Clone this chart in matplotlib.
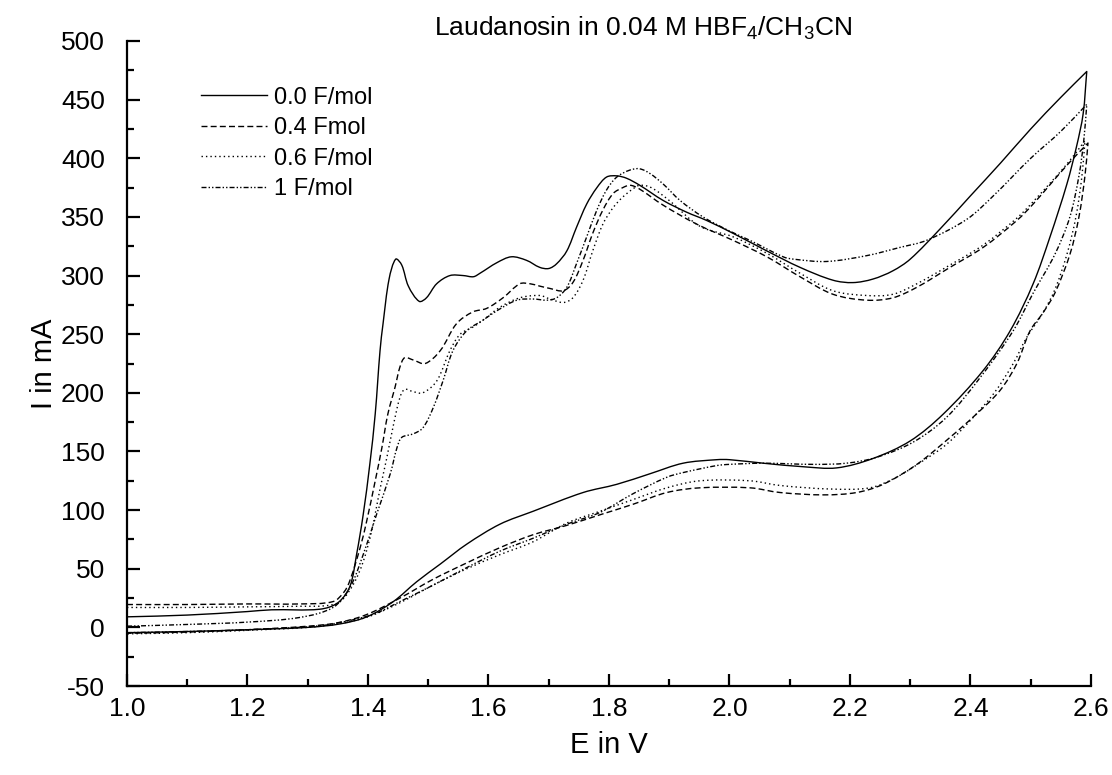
import matplotlib
matplotlib.use("Agg")
import matplotlib.pyplot as plt
from matplotlib.ticker import MultipleLocator, FormatStrFormatter
from matplotlib.path import Path
from matplotlib.patches import PathPatch
from matplotlib.lines import Line2D
import numpy as np

plt.rcParams['font.family'] = ['Liberation Sans', 'DejaVu Sans']
plt.rcParams['mathtext.default'] = 'regular'
plt.rcParams['axes.unicode_minus'] = False

# Cyclic voltammograms of laudanosine after different charges passed
labels = ["0.0 F/mol", "0.4 Fmol", "0.6 F/mol", "1 F/mol"]

# 0.0 F/mol
e00_fwd = [1.00, 1.10, 1.20, 1.24, 1.32, 1.35, 1.37, 1.381, 1.392, 1.403, 1.412, 1.42, 1.425, 1.435, 1.446,
           1.456, 1.467, 1.485, 1.497, 1.514, 1.536, 1.558, 1.575, 1.586, 1.614, 1.638, 1.663, 1.685, 1.70,
           1.713, 1.73, 1.746, 1.763, 1.78, 1.796, 1.813, 1.829, 1.851, 1.89, 1.929, 1.962, 2.006, 2.062,
           2.117, 2.172, 2.205, 2.238, 2.271, 2.30, 2.35, 2.40, 2.45, 2.50, 2.55, 2.593]
i00_fwd = [9, 10.5, 13.5, 15, 15.5, 21, 35, 62, 96, 139, 182, 236, 259, 297, 314,
           309, 291, 278, 281, 293, 300, 300, 299, 302, 311, 316, 313, 307, 306,
           310, 321, 341, 361, 375, 384, 385, 383, 377, 364, 354, 347, 336, 321,
           307, 296, 294, 297, 304, 314, 340, 368, 396, 425, 452, 474]
e00_rev = [2.593, 2.587, 2.576, 2.56, 2.532, 2.504, 2.466, 2.421, 2.355, 2.30, 2.238, 2.178, 2.122, 2.056,
           2.0, 1.979, 1.923, 1.868, 1.813, 1.757, 1.674, 1.619, 1.564, 1.52, 1.481, 1.442, 1.398, 1.354,
           1.30, 1.20, 1.10, 1.00]
i00_rev = [474, 438, 410, 378, 333, 293, 253, 219, 182, 159, 144, 136, 137, 140,
           143, 143, 140, 131, 122, 115, 99, 88, 71, 54, 39, 22, 9, 3,
           0, -2, -3.5, -4.5]

# 0.4 F/mol
e04_fwd = [1.0, 1.1, 1.2, 1.287, 1.342, 1.36, 1.37, 1.387, 1.398, 1.412, 1.423, 1.433, 1.445, 1.453, 1.461,
           1.475, 1.495, 1.52, 1.547, 1.574, 1.597, 1.624, 1.652, 1.669, 1.685, 1.702, 1.724, 1.74, 1.757,
           1.773, 1.79, 1.807, 1.823, 1.835, 1.85, 1.89, 1.945, 2.006, 2.062, 2.117, 2.172, 2.228, 2.271,
           2.311, 2.366, 2.421, 2.477, 2.504, 2.56, 2.595]
i04_fwd = [19.5, 19.5, 20, 20, 22, 30, 40, 68, 91, 125, 153, 182, 205, 222, 230,
           228, 225, 236, 259, 269, 272, 281, 293, 293, 291, 289, 287, 294, 313,
           336, 356, 370, 375, 377, 374, 360, 344, 330, 316, 299, 284, 279, 281,
           290, 307, 324, 347, 361, 394, 413]
e04_rev = [2.595, 2.59, 2.58, 2.565, 2.54, 2.52, 2.499, 2.477, 2.449, 2.41, 2.366, 2.311, 2.255, 2.211,
           2.156, 2.084, 2.034, 1.951, 1.896, 1.84, 1.785, 1.73, 1.674, 1.619, 1.564, 1.508, 1.453, 1.398,
           1.35, 1.3, 1.2, 1.1, 1.0]
i04_rev = [413, 385, 350, 318, 285, 268, 253, 225, 202, 182, 162, 139, 122, 115,
           113, 115, 119, 119, 115, 105, 96, 87, 79, 68, 55, 41, 25, 11,
           4, 1, -2, -4, -5]

# 0.6 F/mol
e06_fwd = [1.0, 1.1, 1.2, 1.287, 1.33, 1.354, 1.376, 1.392, 1.406, 1.42, 1.431, 1.442, 1.453, 1.461, 1.475,
           1.491, 1.514, 1.536, 1.553, 1.574, 1.591, 1.619, 1.652, 1.685, 1.702, 1.724, 1.74, 1.757, 1.773,
           1.79, 1.807, 1.823, 1.84, 1.851, 1.87, 1.90, 1.951, 2.006, 2.062, 2.117, 2.172, 2.228, 2.271,
           2.311, 2.366, 2.421, 2.477, 2.504, 2.56, 2.59]
i06_fwd = [17, 17, 17.5, 18, 18.5, 22, 37, 56, 82, 118, 144, 172, 196, 203, 201,
           200, 210, 236, 250, 256, 262, 273, 281, 283, 280, 277, 281, 296, 321,
           344, 358, 367, 374, 377, 375, 364, 342, 333, 319, 302, 287, 283, 284,
           293, 309, 326, 349, 363, 395, 415]
e06_rev = [2.59, 2.585, 2.575, 2.56, 2.54, 2.52, 2.493, 2.471, 2.438, 2.399, 2.36, 2.321, 2.277, 2.233,
           2.167, 2.084, 2.034, 1.951, 1.896, 1.84, 1.785, 1.73, 1.674, 1.619, 1.564, 1.508, 1.453, 1.40,
           1.35, 1.3, 1.2, 1.1, 1.0]
i06_rev = [415, 385, 350, 318, 288, 268, 247, 225, 199, 176, 156, 142, 128, 119,
           118, 121, 125, 125, 119, 109, 99, 89, 73, 62, 50, 36, 21, 9,
           3, 0, -2.5, -4.5, -5.5]

# 1 F/mol
e10_fwd = [1.0, 1.1, 1.2, 1.287, 1.342, 1.37, 1.392, 1.414, 1.437, 1.448, 1.456, 1.475, 1.491, 1.508, 1.525,
           1.541, 1.564, 1.591, 1.614, 1.647, 1.674, 1.697, 1.713, 1.73, 1.746, 1.763, 1.78, 1.796, 1.813,
           1.835, 1.851, 1.868, 1.89, 1.918, 1.956, 2.0, 2.034, 2.089, 2.106, 2.161, 2.228, 2.283, 2.327,
           2.394, 2.438, 2.5, 2.55, 2.593]
i10_fwd = [1, 2.5, 4.5, 8.5, 17, 34, 62, 96, 131, 153, 162, 165, 170, 187, 211,
           236, 253, 262, 270, 279, 280, 279, 281, 290, 310, 333, 356, 373, 384,
           390, 391, 387, 378, 364, 350, 338, 330, 316, 314, 312, 317, 324, 330,
           348, 368, 400, 423, 446]
e10_rev = [2.593, 2.588, 2.58, 2.565, 2.54, 2.504, 2.471, 2.416, 2.36, 2.305, 2.244, 2.194, 2.14, 2.056,
           2.0, 1.979, 1.923, 1.896, 1.84, 1.785, 1.73, 1.674, 1.619, 1.564, 1.508, 1.453, 1.408, 1.342,
           1.3, 1.2, 1.1, 1.0]
i10_rev = [446, 415, 385, 350, 318, 285, 253, 213, 179, 158, 145, 140, 139, 140,
           139, 138, 132, 128, 114, 98, 88, 76, 65, 51, 36, 22, 11, 3,
           0.5, -2, -3.5, -4.5]

styles = ["-", (0, (4.3, 2.3)), (0, (1.0, 2.2)), (0, (3.6, 1.5, 1.0, 1.5, 1.0, 1.5))]
branches = [
    ((e00_fwd, i00_fwd), (e00_rev, i00_rev)),
    ((e04_fwd, i04_fwd), (e04_rev, i04_rev)),
    ((e06_fwd, i06_fwd), (e06_rev, i06_rev)),
    ((e10_fwd, i10_fwd), (e10_rev, i10_rev)),
]

XLIM = (1.0, 2.6)
YLIM = (-50, 500)


def bezier_segments(x, y, scale):
    """Cubic Bezier pieces through the measured points (chord-length tangents)."""
    p = np.column_stack([np.asarray(x, float), np.asarray(y, float)])
    q = p * scale
    d = np.hypot(*np.diff(q, axis=0).T)
    n = len(p)
    tan = np.zeros_like(p)
    tan[0] = (p[1] - p[0]) / d[0]
    tan[-1] = (p[-1] - p[-2]) / d[-1]
    for k in range(1, n - 1):
        tan[k] = (p[k + 1] - p[k - 1]) / (d[k - 1] + d[k])
    verts, codes = [], []
    for k in range(n - 1):
        c1 = p[k] + tan[k] * d[k] / 3.0
        c2 = p[k + 1] - tan[k + 1] * d[k] / 3.0
        verts += [tuple(c1), tuple(c2), tuple(p[k + 1])]
        codes += [Path.CURVE4] * 3
    return p[0], verts, codes


fig = plt.figure(figsize=(11.12, 7.75), dpi=100)
ax = fig.add_axes([0.1142, 0.1148, 0.8669, 0.8323])
ax.set_xlim(*XLIM)
ax.set_ylim(*YLIM)

scale = np.array([964 / (XLIM[1] - XLIM[0]), 645 / (YLIM[1] - YLIM[0])])
handles = []
for (fwd, rev), ls, lab in zip(branches, styles, labels):
    start, v1, c1 = bezier_segments(*fwd, scale)
    _, v2, c2 = bezier_segments(*rev, scale)
    path = Path([tuple(start)] + v1 + v2, [Path.MOVETO] + c1 + c2)
    ax.add_patch(PathPatch(path, fill=False, edgecolor="black", lw=1.0,
                           linestyle=ls, capstyle="butt", joinstyle="round"))
    handles.append(Line2D([], [], color="black", lw=1.0, linestyle=ls, label=lab))

ax.xaxis.set_major_locator(MultipleLocator(0.2))
ax.xaxis.set_minor_locator(MultipleLocator(0.1))
ax.yaxis.set_major_locator(MultipleLocator(50))
ax.yaxis.set_minor_locator(MultipleLocator(25))
ax.xaxis.set_major_formatter(FormatStrFormatter("%.1f"))

for side in ("top", "right"):
    ax.spines[side].set_visible(False)
for side in ("left", "bottom"):
    ax.spines[side].set_linewidth(1.6)

ax.tick_params(which="major", direction="in", length=9, width=1.6, labelsize=19)
ax.tick_params(which="minor", direction="in", length=5, width=1.6)
ax.tick_params(axis="x", which="major", pad=8)
ax.tick_params(axis="y", which="major", pad=16)

ax.set_xlabel("E in V", fontsize=21, labelpad=7)
ax.set_ylabel("I in mA", fontsize=21, labelpad=2)

fig.text(0.578, 0.981, "Laudanosin in 0.04 M HBF$_4$/CH$_3$CN",
         ha="center", va="top", fontsize=19)

ax.legend(handles=handles, loc="upper left", bbox_to_anchor=(0.067, 0.944), frameon=False,
          fontsize=17, handlelength=2.8, handletextpad=0.3, labelspacing=0.36, borderaxespad=0)

fig.savefig("out.png", dpi=100)
